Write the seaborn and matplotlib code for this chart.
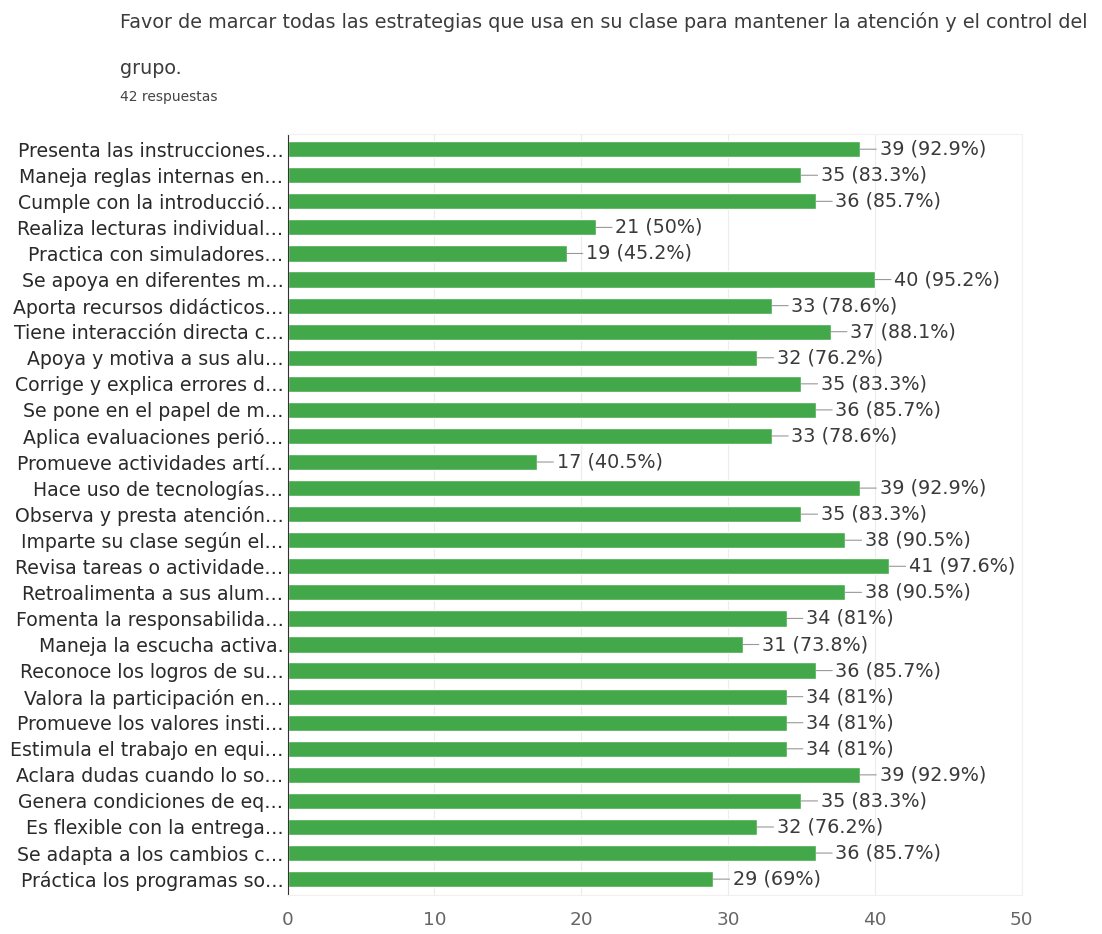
import pandas as pd
import matplotlib.pyplot as plt
import seaborn as sns

labels = [
    "Presenta las instrucciones…",
    "Maneja reglas internas en…",
    "Cumple con la introducció…",
    "Realiza lecturas individual…",
    "Practica con simuladores…",
    "Se apoya en diferentes m…",
    "Aporta recursos didácticos…",
    "Tiene interacción directa c…",
    "Apoya y motiva a sus alu…",
    "Corrige y explica errores d…",
    "Se pone en el papel de m…",
    "Aplica evaluaciones perió…",
    "Promueve actividades artí…",
    "Hace uso de tecnologías…",
    "Observa y presta atención…",
    "Imparte su clase según el…",
    "Revisa tareas o actividade…",
    "Retroalimenta a sus alum…",
    "Fomenta la responsabilida…",
    "Maneja la escucha activa.",
    "Reconoce los logros de su…",
    "Valora la participación en…",
    "Promueve los valores insti…",
    "Estimula el trabajo en equi…",
    "Aclara dudas cuando lo so…",
    "Genera condiciones de eq…",
    "Es flexible con la entrega…",
    "Se adapta a los cambios c…",
    "Práctica los programas so…",
]
counts = [39, 35, 36, 21, 19, 40, 33, 37, 32, 35, 36, 33, 17, 39, 35,
          38, 41, 38, 34, 31, 36, 34, 34, 34, 39, 35, 32, 36, 29]
pcts = ["92.9%", "83.3%", "85.7%", "50%", "45.2%", "95.2%", "78.6%", "88.1%",
        "76.2%", "83.3%", "85.7%", "78.6%", "40.5%", "92.9%", "83.3%", "90.5%",
        "97.6%", "90.5%", "81%", "73.8%", "85.7%", "81%", "81%", "81%",
        "92.9%", "83.3%", "76.2%", "85.7%", "69%"]

df = pd.DataFrame({"label": labels, "count": counts, "pct": pcts})

sns.set_style("white")
plt.rcParams['font.family'] = ['DejaVu Sans']

fig = plt.figure(figsize=(11.02, 9.34), dpi=100)
ax = fig.add_axes([0.261, 0.042, 0.666, 0.815])

sns.barplot(data=df, x="count", y="label", color="#43a849", saturation=1,
            width=0.62, ax=ax)

for i, row in df.iterrows():
    ax.annotate(f"{row['count']} ({row['pct']})", xy=(row['count'], i),
                xytext=(14, 0), textcoords="offset points", va="center",
                ha="left", fontsize=13.8, color="#3a3a3a",
                arrowprops=dict(arrowstyle="-", color="#999999", lw=0.8,
                                shrinkA=0, shrinkB=0))

ax.set_xlim(0, 50)
ax.set_xticks([0, 10, 20, 30, 40, 50])
ax.set_ylim(len(labels) - 0.4, -0.6)
ax.set_xlabel("")
ax.set_ylabel("")
ax.xaxis.grid(True, color="#ececec", lw=0.8)
ax.set_axisbelow(True)
ax.tick_params(axis="y", labelsize=13.6, labelcolor="#2a2a2a", length=0, pad=3)
ax.tick_params(axis="x", labelsize=13.3, labelcolor="#666666", length=0, pad=12)
for side in ["top", "right", "bottom"]:
    ax.spines[side].set_color("#f0f0f0")
ax.spines["left"].set_color("#333333")

fig.text(0.109, 0.976, "Favor de marcar todas las estrategias que usa en su clase para mantener la atención y el control del",
         fontsize=13.8, color="#3c3c3c", va="center")
fig.text(0.109, 0.927, "grupo.", fontsize=13.8, color="#3c3c3c", va="center")
fig.text(0.109, 0.896, "42 respuestas", fontsize=10, color="#444444", va="center")

fig.savefig("out.png", dpi=100)
